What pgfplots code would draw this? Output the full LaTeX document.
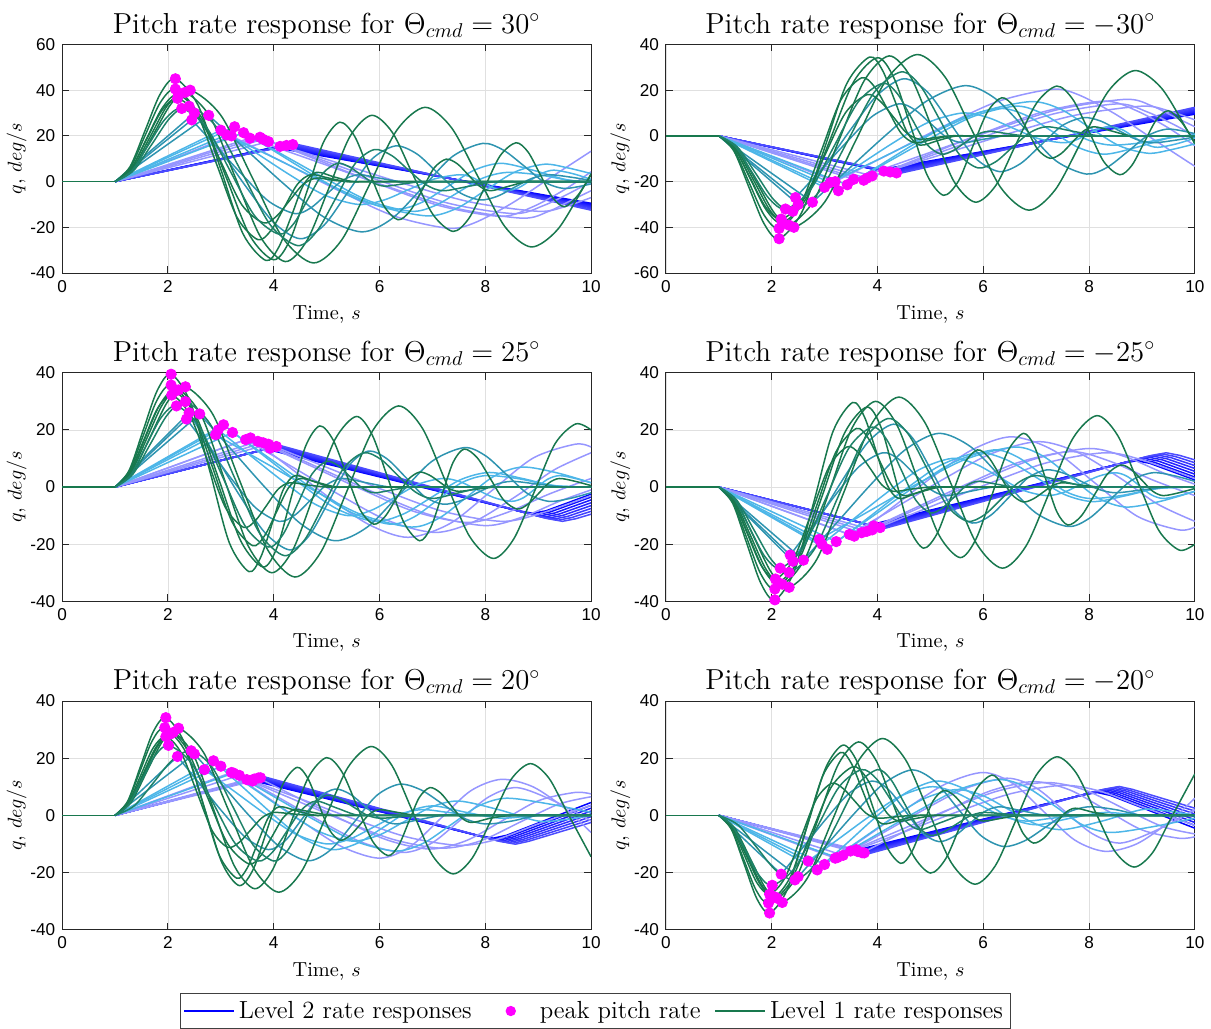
\documentclass[border=0pt]{standalone}
\usepackage{fontspec}
\usepackage{pgfplots}
\pgfplotsset{compat=1.18}
\usepgfplotslibrary{groupplots}
\newfontfamily\tickfont{Liberation Sans}

\definecolor{cG}{RGB}{24,120,78}
\definecolor{cG2}{RGB}{30,130,105}
\definecolor{cT}{RGB}{46,148,176}
\definecolor{cL}{RGB}{77,182,232}
\definecolor{cP}{RGB}{150,150,255}
\definecolor{mag}{RGB}{255,0,255}
\definecolor{bl}{RGB}{0,0,255}

\pgfplotsset{
  rp/.style={sharp plot, no markers, line width=0.75pt, color=#1},
  sm/.style={smooth, no markers, line width=0.75pt, color=#1},
  pk/.style={only marks, mark=*, mark size=2.6pt, color=mag, mark options={solid, fill=mag, draw=mag}},
  longblue/.style={legend image code/.code={\draw[draw=bl, line width=0.75pt] (0cm,0cm) -- (0.88cm,0cm);}},
  longgreen/.style={legend image code/.code={\draw[draw=cG, line width=0.75pt] (0cm,0cm) -- (0.88cm,0cm);}},
  dotimg/.style={legend image code/.code={\path[draw=none] (0cm,0cm) -- (0.88cm,0cm); \path[draw=none, fill=mag] (0.44cm,0cm) circle (2.6pt);}},
}

\begin{document}
\begin{tikzpicture}
\begin{groupplot}[
  group style={group size=2 by 3, horizontal sep=37.5pt, vertical sep=50pt},
  scale only axis, width=265pt, height=114.5pt,
  xmin=0, xmax=10, xtick={0,2,...,10}, ytick distance=20,
  grid=major, major grid style={draw=black!12, line width=0.4pt},
  axis line style={draw=black!85, line width=0.5pt},
  tick style={draw=black!85, line width=0.5pt},
  tick align=inside, tick pos=both, major tick length=3.5pt,
  ticklabel style={font=\tickfont\fontsize{8.6}{10}\selectfont},
  /pgf/number format/assume math mode=true,
  xlabel={Time, $s$}, ylabel={$q$, $deg/s$},
  label style={font=\fontsize{10.2}{12}\selectfont},
  ylabel shift=-5pt,
  every axis title/.style={at={(0.5,1)}, anchor=south, yshift=-0.6pt, font=\fontsize{14.5}{17}\selectfont},
]
% ================= 30 deg =================
\nextgroupplot[title={Pitch rate response for $\Theta_{cmd} = 30^\circ$}, ymin=-40, ymax=60]
\addplot[rp=blue] coordinates {(1,0)(4.00,15.0)(10,-9.5)};
\addplot[rp=blue!95] coordinates {(1,0)(4.06,15.2)(10,-9.9)};
\addplot[rp=blue!90] coordinates {(1,0)(4.12,15.4)(10,-10.3)};
\addplot[rp=blue!86] coordinates {(1,0)(4.18,15.6)(10,-10.7)};
\addplot[rp=blue!82] coordinates {(1,0)(4.24,15.8)(10,-11.1)};
\addplot[rp=blue!78] coordinates {(1,0)(4.30,16.0)(10,-11.5)};
\addplot[rp=blue!74] coordinates {(1,0)(4.36,16.2)(10,-12.0)};
\addplot[rp=blue!70] coordinates {(1,0)(4.42,16.4)(10,-12.5)};
\addplot[rp=cP] coordinates {(1,0)(3.2,20)};
\addplot[sm=cP] coordinates {(3.2,20)(4.23,7.9)(5.25,-4.2)(6.28,-15.1)(7.3,-20.4)(7.8,-18)(8.5,-9.5)(9.25,2)(10,13.3)};
\addplot[rp=cP] coordinates {(1,0)(3.74,19.4)};
\addplot[sm=cP] coordinates {(3.74,19.4)(4.88,9)(6.02,-1.4)(7.16,-10.7)(8.3,-15.2)(8.9,-11)(9.5,-3.5)(10,4.3)};
\addplot[rp=cP] coordinates {(1,0)(3.8,18.5)};
\addplot[sm=cP] coordinates {(3.8,18.5)(4.99,8.8)(6.18,-1)(7.36,-9.8)(8.55,-14)(9.1,-10.5)(9.6,-5)(10,0)};
\addplot[rp=cP] coordinates {(1,0)(3.55,19)};
\addplot[sm=cP] coordinates {(3.55,19)(4.84,8.5)(6.13,-2)(7.41,-11.5)(8.7,-16)(9.2,-13)(9.6,-8.5)(10,-4)};
\addplot[rp=cP] coordinates {(1,0)(3.9,17.5)};
\addplot[sm=cP] coordinates {(3.9,17.5)(5.18,8.4)(6.45,-0.8)(7.73,-9)(9.0,-13)(9.5,-11)(10,-7)};
\addplot[rp=cL] coordinates {(1,0)(3.26,24)};
\addplot[sm=cL] coordinates {(3.26,24)(4.02,13.2)(4.78,2.4)(5.54,-7.3)(6.3,-12)(6.8,-9.1)(7.3,-2)(7.8,5.1)(8.3,8)(8.9,5)(9.5,1)(10,-0.5)};
\addplot[rp=cL] coordinates {(1,0)(3.43,21.4)};
\addplot[sm=cL] coordinates {(3.43,21.4)(4.22,11.1)(5.02,0.8)(5.81,-8.5)(6.6,-13)(7.05,-10.5)(7.5,-4.5)(7.95,1.5)(8.4,4)(9.0,3)(9.6,0.5)(10,0)};
\addplot[rp=cL] coordinates {(1,0)(3.0,22.5)};
\addplot[sm=cL] coordinates {(3.0,22.5)(3.65,12.8)(4.3,3)(4.95,-5.8)(5.6,-10)(6.08,-8.1)(6.55,-3.5)(7.03,1.1)(7.5,3)(7.73,2)(7.95,-0.5)(8.18,-3)(8.4,-4)(8.63,-2.7)(8.85,0.5)(9.08,3.7)(9.3,5)(9.65,3.5)(10,1)};
\addplot[rp=cL] coordinates {(1,0)(3.11,20.4)};
\addplot[sm=cL] coordinates {(3.11,20.4)(4.06,9.8)(5.0,-0.8)(5.95,-10.4)(6.9,-15)(7.46,-11.7)(8.01,-3.7)(8.57,4.3)(9.12,7.6)(9.56,6)(10,3.5)};
\addplot[rp=cT] coordinates {(1,0)(2.45,27)};
\addplot[sm=cT] coordinates {(2.45,27)(2.94,14.7)(3.43,2.4)(3.91,-8.7)(4.4,-14)(4.7,-11.5)(5.0,-5.5)(5.3,0.5)(5.6,3)(6.0,1.5)(6.4,0)(6.9,0)(10,0)};
\addplot[rp=cT] coordinates {(1,0)(2.77,29)};
\addplot[sm=cT] coordinates {(2.77,29)(3.49,13.7)(4.22,-1.6)(4.94,-15.4)(5.66,-22)(6.23,-16.3)(6.81,-2.7)(7.38,11)(7.95,16.7)(8.34,13.8)(8.73,6.9)(9.11,-0.1)(9.5,-3)(10,-1)};
\addplot[rp=cT] coordinates {(1,0)(2.5,30)};
\addplot[sm=cT] coordinates {(2.5,30)(3.0,13.5)(3.5,-3)(4.0,-17.9)(4.5,-25)(4.95,-19.1)(5.4,-4.7)(5.85,9.7)(6.3,15.6)(6.7,12.2)(7.1,3.8)(7.5,-4.6)(7.9,-8)(8.23,-6.4)(8.55,-2.5)(8.88,1.4)(9.2,3)(9.6,2)(10,0.5)};
\addplot[sm=cG] coordinates {(1,0)(1.285,6.6)(1.57,22.5)(1.855,38.4)(2.14,45)(2.57,33.4)(3.0,5.3)(3.42,-22.9)(3.85,-34.5)(4.09,-28.9)(4.33,-15.3)(4.56,-1.6)(4.8,4)(5.15,2)(5.5,0)(6,0)(10,0)};
\addplot[sm=cG] coordinates {(1,0)(1.285,5.9)(1.57,20.3)(1.855,34.6)(2.14,40.5)(2.53,30.9)(2.92,7.6)(3.31,-15.8)(3.7,-25.4)(3.95,-21.3)(4.2,-11.2)(4.45,-1.1)(4.7,3)(5.05,1.5)(5.4,0)(5.9,0)(10,0)};
\addplot[sm=cG] coordinates {(1,0)(1.295,5.3)(1.59,18.2)(1.885,31.1)(2.18,36.4)(2.585,28.5)(2.99,9.2)(3.395,-10.1)(3.8,-18)(4.05,-15.2)(4.3,-8.3)(4.55,-1.3)(4.8,1.5)(5.1,0.7)(5.4,0)(5.9,0)(10,0)};
\addplot[sm=cG] coordinates {(1,0)(1.355,5.8)(1.71,20)(2.065,34.2)(2.42,40)(3.0,29)(3.585,2.2)(4.17,-24.6)(4.75,-35.6)(5.28,-25.7)(5.805,-1.6)(6.33,22.6)(6.86,32.5)(7.36,23.6)(7.865,2)(8.37,-19.7)(8.87,-28.6)(9.37,-20.9)(9.86,-2.3)(10,3.5)};
\addplot[sm=cG] coordinates {(1,0)(1.3,5.5)(1.6,19)(1.9,32.5)(2.2,38)(2.65,27.5)(3.1,1.9)(3.55,-23.7)(4.0,-34.2)(4.31,-25.4)(4.63,-4.1)(4.94,17.2)(5.25,26)(5.53,19.8)(5.8,4.7)(6.08,-10.5)(6.35,-16.7)(6.58,-12.8)(6.81,-3.5)(7.03,5.9)(7.26,9.8)(7.47,7.8)(7.68,2.9)(7.89,-2)(8.1,-4)(8.45,-2)(8.8,0)(9.3,0)(10,0)};
\addplot[sm=cG] coordinates {(1,0)(1.33,5.7)(1.66,19.5)(1.99,33.3)(2.32,39)(2.8,28.2)(3.27,2)(3.75,-24.2)(4.22,-35)(4.63,-25.7)(5.04,-3)(5.44,19.7)(5.85,29)(6.24,21.6)(6.62,3.6)(7.01,-14.4)(7.39,-21.8)(7.69,-16.1)(7.99,-2.4)(8.28,11.3)(8.58,17)(8.81,12.9)(9.04,3)(9.27,-6.9)(9.5,-11)(9.75,-6)(10,3)};
\addplot[sm=cG2] coordinates {(1,0)(1.315,4.7)(1.63,16)(1.945,27.3)(2.26,32)(2.72,24)(3.18,4.5)(3.64,-15)(4.1,-23)(4.375,-18.5)(4.65,-7.5)(4.925,3.5)(5.2,8)(5.425,6.5)(5.65,3)(5.875,-0.5)(6.1,-2)(6.45,-1)(6.8,0)(7.3,0)(10,0)};
\addplot[sm=cG2] coordinates {(1,0)(1.35,4.8)(1.7,16.5)(2.05,28.2)(2.4,33)(2.91,24.1)(3.43,2.5)(3.94,-19.1)(4.45,-28)(4.81,-21.9)(5.18,-7)(5.54,7.9)(5.9,14)(6.23,11.4)(6.55,5)(6.88,-1.4)(7.2,-4)(7.7,-2)(8.2,0)(8.7,0)(10,0)};
\addplot[rp=cG] coordinates {(0,0)(1,0)};
\addplot[pk] coordinates {(2.14,45)(2.14,40.5)(2.18,36.4)(2.42,40)(2.2,38)(2.32,39)(2.26,32)(2.4,33)(2.45,27)(2.77,29)(2.5,30)(3.26,24)(3.43,21.4)(3.0,22.5)(3.11,20.4)(3.2,20)(3.74,19.4)(3.8,18.5)(3.55,19)(3.9,17.5)(4.12,15.4)(4.24,15.8)(4.36,16.2)};

% ================= -30 deg =================
\nextgroupplot[title={Pitch rate response for $\Theta_{cmd} = -30^\circ$}, ymin=-60, ymax=40]
\addplot[rp=blue] coordinates {(1,0)(4.00,-15.0)(10,9.5)};
\addplot[rp=blue!95] coordinates {(1,0)(4.06,-15.2)(10,9.9)};
\addplot[rp=blue!90] coordinates {(1,0)(4.12,-15.4)(10,10.3)};
\addplot[rp=blue!86] coordinates {(1,0)(4.18,-15.6)(10,10.7)};
\addplot[rp=blue!82] coordinates {(1,0)(4.24,-15.8)(10,11.1)};
\addplot[rp=blue!78] coordinates {(1,0)(4.30,-16.0)(10,11.5)};
\addplot[rp=blue!74] coordinates {(1,0)(4.36,-16.2)(10,12.0)};
\addplot[rp=blue!70] coordinates {(1,0)(4.42,-16.4)(10,12.5)};
\addplot[rp=cP] coordinates {(1,0)(3.2,-20)};
\addplot[sm=cP] coordinates {(3.2,-20)(4.23,-7.9)(5.25,4.2)(6.28,15.1)(7.3,20.4)(7.8,18)(8.5,9.5)(9.25,-2)(10,-13.3)};
\addplot[rp=cP] coordinates {(1,0)(3.74,-19.4)};
\addplot[sm=cP] coordinates {(3.74,-19.4)(4.88,-9)(6.02,1.4)(7.16,10.7)(8.3,15.2)(8.9,11)(9.5,3.5)(10,-4.3)};
\addplot[rp=cP] coordinates {(1,0)(3.8,-18.5)};
\addplot[sm=cP] coordinates {(3.8,-18.5)(4.99,-8.8)(6.18,1)(7.36,9.8)(8.55,14)(9.1,10.5)(9.6,5)(10,0)};
\addplot[rp=cP] coordinates {(1,0)(3.55,-19)};
\addplot[sm=cP] coordinates {(3.55,-19)(4.84,-8.5)(6.13,2)(7.41,11.5)(8.7,16)(9.2,13)(9.6,8.5)(10,4)};
\addplot[rp=cP] coordinates {(1,0)(3.9,-17.5)};
\addplot[sm=cP] coordinates {(3.9,-17.5)(5.18,-8.4)(6.45,0.8)(7.73,9)(9.0,13)(9.5,11)(10,7)};
\addplot[rp=cL] coordinates {(1,0)(3.26,-24)};
\addplot[sm=cL] coordinates {(3.26,-24)(4.02,-13.2)(4.78,-2.4)(5.54,7.3)(6.3,12)(6.8,9.1)(7.3,2)(7.8,-5.1)(8.3,-8)(8.9,-5)(9.5,-1)(10,0.5)};
\addplot[rp=cL] coordinates {(1,0)(3.43,-21.4)};
\addplot[sm=cL] coordinates {(3.43,-21.4)(4.22,-11.1)(5.02,-0.8)(5.81,8.5)(6.6,13)(7.05,10.5)(7.5,4.5)(7.95,-1.5)(8.4,-4)(9.0,-3)(9.6,-0.5)(10,0)};
\addplot[rp=cL] coordinates {(1,0)(3.0,-22.5)};
\addplot[sm=cL] coordinates {(3.0,-22.5)(3.65,-12.8)(4.3,-3)(4.95,5.8)(5.6,10)(6.08,8.1)(6.55,3.5)(7.03,-1.1)(7.5,-3)(7.73,-2)(7.95,0.5)(8.18,3)(8.4,4)(8.63,2.7)(8.85,-0.5)(9.08,-3.7)(9.3,-5)(9.65,-3.5)(10,-1)};
\addplot[rp=cL] coordinates {(1,0)(3.11,-20.4)};
\addplot[sm=cL] coordinates {(3.11,-20.4)(4.06,-9.8)(5.0,0.8)(5.95,10.4)(6.9,15)(7.46,11.7)(8.01,3.7)(8.57,-4.3)(9.12,-7.6)(9.56,-6)(10,-3.5)};
\addplot[rp=cT] coordinates {(1,0)(2.45,-27)};
\addplot[sm=cT] coordinates {(2.45,-27)(2.94,-14.7)(3.43,-2.4)(3.91,8.7)(4.4,14)(4.7,11.5)(5.0,5.5)(5.3,-0.5)(5.6,-3)(6.0,-1.5)(6.4,0)(6.9,0)(10,0)};
\addplot[rp=cT] coordinates {(1,0)(2.77,-29)};
\addplot[sm=cT] coordinates {(2.77,-29)(3.49,-13.7)(4.22,1.6)(4.94,15.4)(5.66,22)(6.23,16.3)(6.81,2.7)(7.38,-11)(7.95,-16.7)(8.34,-13.8)(8.73,-6.9)(9.11,0.1)(9.5,3)(10,1)};
\addplot[rp=cT] coordinates {(1,0)(2.5,-30)};
\addplot[sm=cT] coordinates {(2.5,-30)(3.0,-13.5)(3.5,3)(4.0,17.9)(4.5,25)(4.95,19.1)(5.4,4.7)(5.85,-9.7)(6.3,-15.6)(6.7,-12.2)(7.1,-3.8)(7.5,4.6)(7.9,8)(8.23,6.4)(8.55,2.5)(8.88,-1.4)(9.2,-3)(9.6,-2)(10,-0.5)};
\addplot[sm=cG] coordinates {(1,0)(1.285,-6.6)(1.57,-22.5)(1.855,-38.4)(2.14,-45)(2.57,-33.4)(3.0,-5.3)(3.42,22.9)(3.85,34.5)(4.09,28.9)(4.33,15.3)(4.56,1.6)(4.8,-4)(5.15,-2)(5.5,0)(6,0)(10,0)};
\addplot[sm=cG] coordinates {(1,0)(1.285,-5.9)(1.57,-20.3)(1.855,-34.6)(2.14,-40.5)(2.53,-30.9)(2.92,-7.6)(3.31,15.8)(3.7,25.4)(3.95,21.3)(4.2,11.2)(4.45,1.1)(4.7,-3)(5.05,-1.5)(5.4,0)(5.9,0)(10,0)};
\addplot[sm=cG] coordinates {(1,0)(1.295,-5.3)(1.59,-18.2)(1.885,-31.1)(2.18,-36.4)(2.585,-28.5)(2.99,-9.2)(3.395,10.1)(3.8,18)(4.05,15.2)(4.3,8.3)(4.55,1.3)(4.8,-1.5)(5.1,-0.7)(5.4,0)(5.9,0)(10,0)};
\addplot[sm=cG] coordinates {(1,0)(1.355,-5.8)(1.71,-20)(2.065,-34.2)(2.42,-40)(3.0,-29)(3.585,-2.2)(4.17,24.6)(4.75,35.6)(5.28,25.7)(5.805,1.6)(6.33,-22.6)(6.86,-32.5)(7.36,-23.6)(7.865,-2)(8.37,19.7)(8.87,28.6)(9.37,20.9)(9.86,2.3)(10,-3.5)};
\addplot[sm=cG] coordinates {(1,0)(1.3,-5.5)(1.6,-19)(1.9,-32.5)(2.2,-38)(2.65,-27.5)(3.1,-1.9)(3.55,23.7)(4.0,34.2)(4.31,25.4)(4.63,4.1)(4.94,-17.2)(5.25,-26)(5.53,-19.8)(5.8,-4.7)(6.08,10.5)(6.35,16.7)(6.58,12.8)(6.81,3.5)(7.03,-5.9)(7.26,-9.8)(7.47,-7.8)(7.68,-2.9)(7.89,2)(8.1,4)(8.45,2)(8.8,0)(9.3,0)(10,0)};
\addplot[sm=cG] coordinates {(1,0)(1.33,-5.7)(1.66,-19.5)(1.99,-33.3)(2.32,-39)(2.8,-28.2)(3.27,-2)(3.75,24.2)(4.22,35)(4.63,25.7)(5.04,3)(5.44,-19.7)(5.85,-29)(6.24,-21.6)(6.62,-3.6)(7.01,14.4)(7.39,21.8)(7.69,16.1)(7.99,2.4)(8.28,-11.3)(8.58,-17)(8.81,-12.9)(9.04,-3)(9.27,6.9)(9.5,11)(9.75,6)(10,-3)};
\addplot[sm=cG2] coordinates {(1,0)(1.315,-4.7)(1.63,-16)(1.945,-27.3)(2.26,-32)(2.72,-24)(3.18,-4.5)(3.64,15)(4.1,23)(4.375,18.5)(4.65,7.5)(4.925,-3.5)(5.2,-8)(5.425,-6.5)(5.65,-3)(5.875,0.5)(6.1,2)(6.45,1)(6.8,0)(7.3,0)(10,0)};
\addplot[sm=cG2] coordinates {(1,0)(1.35,-4.8)(1.7,-16.5)(2.05,-28.2)(2.4,-33)(2.91,-24.1)(3.43,-2.5)(3.94,19.1)(4.45,28)(4.81,21.9)(5.18,7)(5.54,-7.9)(5.9,-14)(6.23,-11.4)(6.55,-5)(6.88,1.4)(7.2,4)(7.7,2)(8.2,0)(8.7,0)(10,0)};
\addplot[rp=cG] coordinates {(0,0)(1,0)};
\addplot[pk] coordinates {(2.14,-45)(2.14,-40.5)(2.18,-36.4)(2.42,-40)(2.2,-38)(2.32,-39)(2.26,-32)(2.4,-33)(2.45,-27)(2.77,-29)(2.5,-30)(3.26,-24)(3.43,-21.4)(3.0,-22.5)(3.11,-20.4)(3.2,-20)(3.74,-19.4)(3.8,-18.5)(3.55,-19)(3.9,-17.5)(4.12,-15.4)(4.24,-15.8)(4.36,-16.2)};

% ================= 25 deg =================
\nextgroupplot[title={Pitch rate response for $\Theta_{cmd} = 25^\circ$}, ymin=-40, ymax=40]
\addplot[rp=blue] coordinates {(1,0)(3.85,13.3)(8.6,-8.2)(8.9,-9.2)(9.15,-8.3)(10,-2.5)};
\addplot[rp=blue!95] coordinates {(1,0)(3.89,13.5)(8.68,-8.6)(8.98,-9.6)(9.23,-8.7)(10,-3.5)};
\addplot[rp=blue!90] coordinates {(1,0)(3.93,13.6)(8.76,-9.0)(9.06,-10.0)(9.31,-9.1)(10,-4.5)};
\addplot[rp=blue!86] coordinates {(1,0)(3.97,13.8)(8.84,-9.4)(9.14,-10.4)(9.39,-9.5)(10,-5.5)};
\addplot[rp=blue!82] coordinates {(1,0)(4.01,14.0)(8.92,-9.8)(9.22,-10.8)(9.47,-9.9)(10,-6.5)};
\addplot[rp=blue!78] coordinates {(1,0)(4.05,14.2)(9.0,-10.2)(9.3,-11.2)(9.55,-10.3)(10,-7.5)};
\addplot[rp=blue!74] coordinates {(1,0)(4.09,14.3)(9.08,-10.6)(9.38,-11.6)(9.63,-10.7)(10,-8.5)};
\addplot[rp=blue!70] coordinates {(1,0)(4.13,14.5)(9.16,-11.0)(9.46,-12.0)(9.71,-11.1)(10,-9.5)};
\addplot[rp=cP] coordinates {(1,0)(3.56,17.2)};
\addplot[sm=cP] coordinates {(3.56,17.2)(4.305,6.8)(5.05,-3.7)(5.795,-13.1)(6.54,-17.6)(7.33,-12.8)(8.12,-1.3)(8.91,10.2)(9.7,15)(10,14)};
\addplot[rp=cP] coordinates {(1,0)(3.47,16.6)};
\addplot[sm=cP] coordinates {(3.47,16.6)(4.365,6.9)(5.26,-2.9)(6.155,-11.7)(7.05,-15.9)(7.8,-12)(8.6,-3)(9.3,6)(10,12)};
\addplot[rp=cP] coordinates {(1,0)(3.7,16)};
\addplot[sm=cP] coordinates {(3.7,16)(4.69,7.5)(5.685,-1)(6.68,-8.7)(7.67,-12.4)(8.4,-9)(9.2,-2.5)(10,3)};
\addplot[rp=cP] coordinates {(1,0)(3.8,15.5)};
\addplot[sm=cP] coordinates {(3.8,15.5)(4.85,6.8)(5.9,-1.9)(6.95,-9.7)(8.0,-13.5)(8.7,-10.5)(9.4,-5)(10,-1)};
\addplot[rp=cP] coordinates {(1,0)(3.9,15)};
\addplot[sm=cP] coordinates {(3.9,15)(5.0,6.9)(6.1,-1.2)(7.2,-8.5)(8.3,-12)(9.0,-9.5)(10,-3)};
\addplot[rp=cL] coordinates {(1,0)(3.05,21.8)};
\addplot[sm=cL] coordinates {(3.05,21.8)(3.76,11.7)(4.475,1.5)(5.19,-7.6)(5.9,-12)(6.445,-9.5)(6.99,-3.5)(7.535,2.6)(8.08,5.1)(8.7,3)(9.3,0.5)(10,0)};
\addplot[rp=cL] coordinates {(1,0)(3.22,19.1)};
\addplot[sm=cL] coordinates {(3.22,19.1)(3.965,9.5)(4.71,-0.2)(5.455,-8.8)(6.2,-13)(6.65,-10.5)(7.1,-4.5)(7.55,1.5)(8.0,4)(8.6,3)(9.3,0.5)(10,0)};
\addplot[rp=cL] coordinates {(1,0)(2.95,20)};
\addplot[sm=cL] coordinates {(2.95,20)(3.56,11)(4.175,2)(4.79,-6.1)(5.4,-10)(5.85,-8.1)(6.3,-3.5)(6.75,1.1)(7.2,3)(7.53,1.8)(7.85,-1)(8.18,-3.8)(8.5,-5)(8.725,-3.7)(8.95,-0.5)(9.175,2.7)(9.4,4)(9.7,3)(10,1.5)};
\addplot[rp=cL] coordinates {(1,0)(2.9,18.3)};
\addplot[sm=cL] coordinates {(2.9,18.3)(3.825,8.6)(4.75,-1.1)(5.675,-9.8)(6.6,-14)(7.125,-10.9)(7.65,-3.5)(8.175,3.9)(8.7,7)(9.35,5)(10,1.5)};
\addplot[rp=cT] coordinates {(1,0)(2.35,23.8)};
\addplot[sm=cT] coordinates {(2.35,23.8)(2.79,13.1)(3.225,2.3)(3.66,-7.3)(4.1,-12)(4.4,-9.8)(4.7,-4.5)(5.0,0.8)(5.3,3)(5.75,1.5)(6.2,0)(6.7,0)(10,0)};
\addplot[rp=cT] coordinates {(1,0)(2.6,25.6)};
\addplot[sm=cT] coordinates {(2.6,25.6)(3.24,12.3)(3.88,-1)(4.52,-13)(5.16,-18.8)(5.77,-14)(6.38,-2.5)(6.99,9)(7.6,13.8)(8.0,11)(8.4,4.4)(8.8,-2.3)(9.2,-5)(9.6,-4)(10,-2)};
\addplot[rp=cT] coordinates {(1,0)(2.4,26)};
\addplot[sm=cT] coordinates {(2.4,26)(2.875,11.6)(3.35,-2.8)(3.825,-15.8)(4.3,-22)(4.67,-17)(5.05,-4.7)(5.42,7.5)(5.79,12.6)(6.14,9.9)(6.5,3.3)(6.85,-3.3)(7.2,-6)(7.53,-4.8)(7.85,-2)(8.18,0.8)(8.5,2)(9.0,1)(9.5,0)(10,0)};
\addplot[sm=cG] coordinates {(1,0)(1.265,5.8)(1.53,19.8)(1.795,33.7)(2.06,39.5)(2.43,29.4)(2.8,5)(3.16,-19.5)(3.53,-29.6)(3.75,-24.7)(3.97,-12.8)(4.18,-0.9)(4.4,4)(4.75,2)(5.1,0)(5.6,0)(10,0)};
\addplot[sm=cG] coordinates {(1,0)(1.265,5.2)(1.53,17.9)(1.795,30.5)(2.06,35.7)(2.445,27.5)(2.83,7.6)(3.215,-12.3)(3.6,-20.5)(3.825,-17.1)(4.05,-8.8)(4.275,-0.4)(4.5,3)(4.85,1.5)(5.2,0)(5.7,0)(10,0)};
\addplot[sm=cG] coordinates {(1,0)(1.2675,4.7)(1.535,16.1)(1.8025,27.5)(2.07,32.2)(2.41,25.4)(2.75,9.1)(3.09,-7.3)(3.43,-14.1)(3.65,-11.8)(3.87,-6.3)(4.08,-0.8)(4.3,1.5)(4.65,0.7)(5.0,0)(5.5,0)(10,0)};
\addplot[sm=cG] coordinates {(1,0)(1.3325,5.1)(1.665,17.6)(1.9975,30)(2.33,35.1)(2.85,25.4)(3.365,1.8)(3.88,-21.8)(4.4,-31.5)(4.89,-22.8)(5.38,-1.6)(5.87,19.7)(6.36,28.4)(6.81,20.6)(7.255,1.7)(7.7,-17.2)(8.15,-25)(8.54,-18.1)(8.93,-1.5)(9.32,15.2)(9.71,22.1)(10,20)};
\addplot[sm=cG] coordinates {(1,0)(1.28,4.9)(1.56,16.8)(1.84,28.6)(2.12,33.5)(2.54,24.5)(2.96,2.8)(3.38,-19)(3.8,-28)(4.07,-20.8)(4.335,-3.3)(4.6,14.2)(4.87,21.4)(5.125,16.4)(5.38,4.2)(5.635,-8)(5.89,-13)(6.105,-10.3)(6.32,-3.9)(6.535,2.5)(6.75,5.2)(6.94,4.2)(7.125,1.9)(7.31,-0.5)(7.5,-1.5)(7.85,-0.7)(8.2,0)(8.7,0)(10,0)};
\addplot[sm=cG] coordinates {(1,0)(1.3,5)(1.6,17)(1.9,29)(2.2,34)(2.64,24.7)(3.08,2)(3.52,-20.7)(3.96,-30)(4.36,-22)(4.76,-2.7)(5.16,16.7)(5.56,24.7)(5.86,18.3)(6.16,3)(6.46,-12.4)(6.76,-18.8)(6.97,-14.1)(7.18,-2.8)(7.39,8.6)(7.6,13.3)(7.85,10.2)(8.1,2.8)(8.35,-4.6)(8.6,-7.7)(8.8,-6.1)(9.0,-2.4)(9.2,1.4)(9.4,3)(9.7,2)(10,0.5)};
\addplot[sm=cG2] coordinates {(1,0)(1.29,4.1)(1.58,14.2)(1.87,24.3)(2.16,28.4)(2.595,21.2)(3.03,3.7)(3.465,-13.8)(3.9,-21)(4.175,-16.6)(4.45,-6)(4.725,4.6)(5.0,9)(5.225,7.4)(5.45,3.5)(5.675,-0.4)(5.9,-2)(6.25,-1)(6.6,0)(7.1,0)(10,0)};
\addplot[sm=cG2] coordinates {(1,0)(1.3325,4.4)(1.665,15)(1.9975,25.5)(2.33,29.9)(2.80,22)(3.265,3)(3.73,-16.1)(4.2,-24)(4.575,-18.7)(4.95,-6)(5.325,6.7)(5.7,12)(6.025,9.7)(6.35,4)(6.675,-1.7)(7.0,-4)(7.5,-2)(8.0,0)(8.5,0)(10,0)};
\addplot[rp=cG] coordinates {(0,0)(1,0)};
\addplot[pk] coordinates {(2.06,39.5)(2.06,35.7)(2.07,32.2)(2.33,35.1)(2.12,33.5)(2.2,34)(2.16,28.4)(2.33,29.9)(2.35,23.8)(2.6,25.6)(2.4,26)(3.05,21.8)(3.22,19.1)(2.95,20)(2.9,18.3)(3.56,17.2)(3.47,16.6)(3.7,16)(3.8,15.5)(3.9,15)(3.93,13.6)(4.05,14.2)};

% ================= -25 deg =================
\nextgroupplot[title={Pitch rate response for $\Theta_{cmd} = -25^\circ$}, ymin=-40, ymax=40]
\addplot[rp=blue] coordinates {(1,0)(3.85,-13.3)(8.6,8.2)(8.9,9.2)(9.15,8.3)(10,2.5)};
\addplot[rp=blue!95] coordinates {(1,0)(3.89,-13.5)(8.68,8.6)(8.98,9.6)(9.23,8.7)(10,3.5)};
\addplot[rp=blue!90] coordinates {(1,0)(3.93,-13.6)(8.76,9.0)(9.06,10.0)(9.31,9.1)(10,4.5)};
\addplot[rp=blue!86] coordinates {(1,0)(3.97,-13.8)(8.84,9.4)(9.14,10.4)(9.39,9.5)(10,5.5)};
\addplot[rp=blue!82] coordinates {(1,0)(4.01,-14.0)(8.92,9.8)(9.22,10.8)(9.47,9.9)(10,6.5)};
\addplot[rp=blue!78] coordinates {(1,0)(4.05,-14.2)(9.0,10.2)(9.3,11.2)(9.55,10.3)(10,7.5)};
\addplot[rp=blue!74] coordinates {(1,0)(4.09,-14.3)(9.08,10.6)(9.38,11.6)(9.63,10.7)(10,8.5)};
\addplot[rp=blue!70] coordinates {(1,0)(4.13,-14.5)(9.16,11.0)(9.46,12.0)(9.71,11.1)(10,9.5)};
\addplot[rp=cP] coordinates {(1,0)(3.56,-17.2)};
\addplot[sm=cP] coordinates {(3.56,-17.2)(4.305,-6.8)(5.05,3.7)(5.795,13.1)(6.54,17.6)(7.33,12.8)(8.12,1.3)(8.91,-10.2)(9.7,-15)(10,-14)};
\addplot[rp=cP] coordinates {(1,0)(3.47,-16.6)};
\addplot[sm=cP] coordinates {(3.47,-16.6)(4.365,-6.9)(5.26,2.9)(6.155,11.7)(7.05,15.9)(7.8,12)(8.6,3)(9.3,-6)(10,-12)};
\addplot[rp=cP] coordinates {(1,0)(3.7,-16)};
\addplot[sm=cP] coordinates {(3.7,-16)(4.69,-7.5)(5.685,1)(6.68,8.7)(7.67,12.4)(8.4,9)(9.2,2.5)(10,-3)};
\addplot[rp=cP] coordinates {(1,0)(3.8,-15.5)};
\addplot[sm=cP] coordinates {(3.8,-15.5)(4.85,-6.8)(5.9,1.9)(6.95,9.7)(8.0,13.5)(8.7,10.5)(9.4,5)(10,1)};
\addplot[rp=cP] coordinates {(1,0)(3.9,-15)};
\addplot[sm=cP] coordinates {(3.9,-15)(5.0,-6.9)(6.1,1.2)(7.2,8.5)(8.3,12)(9.0,9.5)(10,3)};
\addplot[rp=cL] coordinates {(1,0)(3.05,-21.8)};
\addplot[sm=cL] coordinates {(3.05,-21.8)(3.76,-11.7)(4.475,-1.5)(5.19,7.6)(5.9,12)(6.445,9.5)(6.99,3.5)(7.535,-2.6)(8.08,-5.1)(8.7,-3)(9.3,-0.5)(10,0)};
\addplot[rp=cL] coordinates {(1,0)(3.22,-19.1)};
\addplot[sm=cL] coordinates {(3.22,-19.1)(3.965,-9.5)(4.71,0.2)(5.455,8.8)(6.2,13)(6.65,10.5)(7.1,4.5)(7.55,-1.5)(8.0,-4)(8.6,-3)(9.3,-0.5)(10,0)};
\addplot[rp=cL] coordinates {(1,0)(2.95,-20)};
\addplot[sm=cL] coordinates {(2.95,-20)(3.56,-11)(4.175,-2)(4.79,6.1)(5.4,10)(5.85,8.1)(6.3,3.5)(6.75,-1.1)(7.2,-3)(7.53,-1.8)(7.85,1)(8.18,3.8)(8.5,5)(8.725,3.7)(8.95,0.5)(9.175,-2.7)(9.4,-4)(9.7,-3)(10,-1.5)};
\addplot[rp=cL] coordinates {(1,0)(2.9,-18.3)};
\addplot[sm=cL] coordinates {(2.9,-18.3)(3.825,-8.6)(4.75,1.1)(5.675,9.8)(6.6,14)(7.125,10.9)(7.65,3.5)(8.175,-3.9)(8.7,-7)(9.35,-5)(10,-1.5)};
\addplot[rp=cT] coordinates {(1,0)(2.35,-23.8)};
\addplot[sm=cT] coordinates {(2.35,-23.8)(2.79,-13.1)(3.225,-2.3)(3.66,7.3)(4.1,12)(4.4,9.8)(4.7,4.5)(5.0,-0.8)(5.3,-3)(5.75,-1.5)(6.2,0)(6.7,0)(10,0)};
\addplot[rp=cT] coordinates {(1,0)(2.6,-25.6)};
\addplot[sm=cT] coordinates {(2.6,-25.6)(3.24,-12.3)(3.88,1)(4.52,13)(5.16,18.8)(5.77,14)(6.38,2.5)(6.99,-9)(7.6,-13.8)(8.0,-11)(8.4,-4.4)(8.8,2.3)(9.2,5)(9.6,4)(10,2)};
\addplot[rp=cT] coordinates {(1,0)(2.4,-26)};
\addplot[sm=cT] coordinates {(2.4,-26)(2.875,-11.6)(3.35,2.8)(3.825,15.8)(4.3,22)(4.67,17)(5.05,4.7)(5.42,-7.5)(5.79,-12.6)(6.14,-9.9)(6.5,-3.3)(6.85,3.3)(7.2,6)(7.53,4.8)(7.85,2)(8.18,-0.8)(8.5,-2)(9.0,-1)(9.5,0)(10,0)};
\addplot[sm=cG] coordinates {(1,0)(1.265,-5.8)(1.53,-19.8)(1.795,-33.7)(2.06,-39.5)(2.43,-29.4)(2.8,-5)(3.16,19.5)(3.53,29.6)(3.75,24.7)(3.97,12.8)(4.18,0.9)(4.4,-4)(4.75,-2)(5.1,0)(5.6,0)(10,0)};
\addplot[sm=cG] coordinates {(1,0)(1.265,-5.2)(1.53,-17.9)(1.795,-30.5)(2.06,-35.7)(2.445,-27.5)(2.83,-7.6)(3.215,12.3)(3.6,20.5)(3.825,17.1)(4.05,8.8)(4.275,0.4)(4.5,-3)(4.85,-1.5)(5.2,0)(5.7,0)(10,0)};
\addplot[sm=cG] coordinates {(1,0)(1.2675,-4.7)(1.535,-16.1)(1.8025,-27.5)(2.07,-32.2)(2.41,-25.4)(2.75,-9.1)(3.09,7.3)(3.43,14.1)(3.65,11.8)(3.87,6.3)(4.08,0.8)(4.3,-1.5)(4.65,-0.7)(5.0,0)(5.5,0)(10,0)};
\addplot[sm=cG] coordinates {(1,0)(1.3325,-5.1)(1.665,-17.6)(1.9975,-30)(2.33,-35.1)(2.85,-25.4)(3.365,-1.8)(3.88,21.8)(4.4,31.5)(4.89,22.8)(5.38,1.6)(5.87,-19.7)(6.36,-28.4)(6.81,-20.6)(7.255,-1.7)(7.7,17.2)(8.15,25)(8.54,18.1)(8.93,1.5)(9.32,-15.2)(9.71,-22.1)(10,-20)};
\addplot[sm=cG] coordinates {(1,0)(1.28,-4.9)(1.56,-16.8)(1.84,-28.6)(2.12,-33.5)(2.54,-24.5)(2.96,-2.8)(3.38,19)(3.8,28)(4.07,20.8)(4.335,3.3)(4.6,-14.2)(4.87,-21.4)(5.125,-16.4)(5.38,-4.2)(5.635,8)(5.89,13)(6.105,10.3)(6.32,3.9)(6.535,-2.5)(6.75,-5.2)(6.94,-4.2)(7.125,-1.9)(7.31,0.5)(7.5,1.5)(7.85,0.7)(8.2,0)(8.7,0)(10,0)};
\addplot[sm=cG] coordinates {(1,0)(1.3,-5)(1.6,-17)(1.9,-29)(2.2,-34)(2.64,-24.7)(3.08,-2)(3.52,20.7)(3.96,30)(4.36,22)(4.76,2.7)(5.16,-16.7)(5.56,-24.7)(5.86,-18.3)(6.16,-3)(6.46,12.4)(6.76,18.8)(6.97,14.1)(7.18,2.8)(7.39,-8.6)(7.6,-13.3)(7.85,-10.2)(8.1,-2.8)(8.35,4.6)(8.6,7.7)(8.8,6.1)(9.0,2.4)(9.2,-1.4)(9.4,-3)(9.7,-2)(10,-0.5)};
\addplot[sm=cG2] coordinates {(1,0)(1.29,-4.1)(1.58,-14.2)(1.87,-24.3)(2.16,-28.4)(2.595,-21.2)(3.03,-3.7)(3.465,13.8)(3.9,21)(4.175,16.6)(4.45,6)(4.725,-4.6)(5.0,-9)(5.225,-7.4)(5.45,-3.5)(5.675,0.4)(5.9,2)(6.25,1)(6.6,0)(7.1,0)(10,0)};
\addplot[sm=cG2] coordinates {(1,0)(1.3325,-4.4)(1.665,-15)(1.9975,-25.5)(2.33,-29.9)(2.80,-22)(3.265,-3)(3.73,16.1)(4.2,24)(4.575,18.7)(4.95,6)(5.325,-6.7)(5.7,-12)(6.025,-9.7)(6.35,-4)(6.675,1.7)(7.0,4)(7.5,2)(8.0,0)(8.5,0)(10,0)};
\addplot[rp=cG] coordinates {(0,0)(1,0)};
\addplot[pk] coordinates {(2.06,-39.5)(2.06,-35.7)(2.07,-32.2)(2.33,-35.1)(2.12,-33.5)(2.2,-34)(2.16,-28.4)(2.33,-29.9)(2.35,-23.8)(2.6,-25.6)(2.4,-26)(3.05,-21.8)(3.22,-19.1)(2.95,-20)(2.9,-18.3)(3.56,-17.2)(3.47,-16.6)(3.7,-16)(3.8,-15.5)(3.9,-15)(3.93,-13.6)(4.05,-14.2)};

% ================= 20 deg =================
\nextgroupplot[title={Pitch rate response for $\Theta_{cmd} = 20^\circ$}, ymin=-40, ymax=40,
  legend style={at={(0.2226,-0.2795)}, anchor=north west, legend columns=3, draw=black!75, line width=0.5pt,
    font=\fontsize{12.4}{14}\selectfont, inner sep=1.5pt,
    /tikz/every even column/.append style={column sep=5pt}}]
\addlegendimage{longblue}
\addlegendimage{dotimg}
\addlegendimage{longgreen}
\legend{Level 2 rate responses, peak pitch rate, Level 1 rate responses}
\addplot[rp=blue] coordinates {(1,0)(3.55,12.4)(7.85,-7.0)(8.15,-8.0)(8.4,-7.0)(10,4.5)};
\addplot[rp=blue!95] coordinates {(1,0)(3.59,12.55)(7.91,-7.3)(8.21,-8.3)(8.46,-7.3)(10,3.5)};
\addplot[rp=blue!90] coordinates {(1,0)(3.63,12.7)(7.97,-7.6)(8.27,-8.6)(8.52,-7.6)(10,2.5)};
\addplot[rp=blue!86] coordinates {(1,0)(3.67,12.85)(8.03,-7.9)(8.33,-8.9)(8.58,-7.9)(10,1.5)};
\addplot[rp=blue!82] coordinates {(1,0)(3.71,13.0)(8.09,-8.2)(8.39,-9.2)(8.64,-8.2)(10,0.5)};
\addplot[rp=blue!78] coordinates {(1,0)(3.75,13.15)(8.15,-8.5)(8.45,-9.5)(8.7,-8.5)(10,-0.5)};
\addplot[rp=blue!74] coordinates {(1,0)(3.79,13.3)(8.21,-8.8)(8.51,-9.8)(8.76,-8.8)(10,-1.5)};
\addplot[rp=blue!70] coordinates {(1,0)(3.83,13.45)(8.27,-9.1)(8.57,-10.1)(8.82,-9.1)(10,-2.5)};
\addplot[rp=cP] coordinates {(1,0)(3.2,15)};
\addplot[sm=cP] coordinates {(3.2,15)(3.9,6)(4.6,-3)(5.3,-11.1)(6.0,-15)(6.575,-11)(7.15,-1.2)(7.725,8.6)(8.3,12.6)(8.9,10)(9.5,2.5)(10,-6)};
\addplot[rp=cP] coordinates {(1,0)(3.35,14)};
\addplot[sm=cP] coordinates {(3.35,14)(4.125,5.9)(4.9,-2.2)(5.675,-9.5)(6.45,-13)(6.99,-9.7)(7.525,-1.7)(8.06,6.4)(8.6,9.7)(9.3,5)(10,-2)};
\addplot[rp=cP] coordinates {(1,0)(3.71,13.1)};
\addplot[sm=cP] coordinates {(3.71,13.1)(4.52,5.6)(5.33,-1.8)(6.14,-8.6)(6.95,-11.8)(7.635,-8.9)(8.32,-1.9)(9.0,5.1)(9.69,8)(10,7.5)};
\addplot[rp=cP] coordinates {(1,0)(3.49,12.5)};
\addplot[sm=cP] coordinates {(3.49,12.5)(4.41,5.3)(5.33,-1.9)(6.25,-8.4)(7.17,-11.5)(7.9,-9)(8.7,-2)(9.4,4)(10,6.5)};
\addplot[rp=cP] coordinates {(1,0)(3.6,12)};
\addplot[sm=cP] coordinates {(3.6,12)(4.575,5.3)(5.55,-1.5)(6.525,-7.6)(7.5,-10.5)(8.2,-8.5)(9.0,-3)(10,3.5)};
\addplot[rp=cL] coordinates {(1,0)(2.86,19.1)};
\addplot[sm=cL] coordinates {(2.86,19.1)(3.42,9.8)(3.98,0.4)(4.54,-7.9)(5.1,-12)(5.58,-9.8)(6.055,-4.4)(6.53,1.1)(7.01,3.3)(7.65,1)(8.3,-1)(9.0,0)(10,0)};
\addplot[rp=cL] coordinates {(1,0)(3.0,17.2)};
\addplot[sm=cL] coordinates {(3.0,17.2)(3.62,9.3)(4.235,1.5)(4.85,-5.6)(5.47,-9)(5.98,-7)(6.485,-2)(6.99,3)(7.5,5)(8.25,2)(9.0,-2)(9.5,-1.5)(10,0)};
\addplot[rp=cL] coordinates {(1,0)(2.69,16)};
\addplot[sm=cL] coordinates {(2.69,16)(3.27,8.2)(3.845,0.4)(4.42,-6.6)(5.0,-10)(5.45,-8.2)(5.9,-4)(6.35,0.2)(6.8,2)(7.3,1)(7.8,0)(8.3,0)(10,0)};
\addplot[rp=cL] coordinates {(1,0)(3.24,14.8)};
\addplot[sm=cL] coordinates {(3.24,14.8)(4.0,6.6)(4.77,-1.6)(5.53,-9)(6.3,-12.5)(6.825,-9.8)(7.35,-3.3)(7.875,3.3)(8.4,6)(9.2,4)(10,1)};
\addplot[rp=cT] coordinates {(1,0)(2.18,20.6)};
\addplot[sm=cT] coordinates {(2.18,20.6)(2.61,10.8)(3.04,1)(3.47,-7.8)(3.9,-12)(4.215,-8.9)(4.53,-1.4)(4.845,6.1)(5.16,9.2)(5.445,7.4)(5.73,3.1)(6.015,-1.2)(6.3,-3)(6.75,-1.5)(7.2,0)(7.7,0)(10,0)};
\addplot[rp=cT] coordinates {(1,0)(2.5,21.5)};
\addplot[sm=cT] coordinates {(2.5,21.5)(3.04,10.3)(3.575,-0.9)(4.11,-11)(4.65,-15.9)(5.08,-12)(5.515,-2.5)(5.95,7)(6.38,10.9)(6.785,8.9)(7.19,4)(7.595,-1)(8.0,-3)(8.5,-2)(9.0,0)(9.5,0)(10,0)};
\addplot[sm=cG] coordinates {(1,0)(1.24,5)(1.48,17.1)(1.72,29.2)(1.96,34.2)(2.295,26)(2.63,6.1)(2.965,-13.8)(3.3,-22)(3.5,-18.4)(3.7,-9.5)(3.9,-0.7)(4.1,3)(4.45,1.5)(4.8,0)(5.3,0)(10,0)};
\addplot[sm=cG] coordinates {(1,0)(1.235,4.5)(1.47,15.4)(1.705,26.2)(1.94,30.7)(2.34,23.7)(2.735,6.9)(3.13,-10)(3.53,-17)(3.75,-14.2)(3.965,-7.5)(4.18,-0.8)(4.4,2)(4.75,1)(5.1,0)(5.6,0)(10,0)};
\addplot[sm=cG] coordinates {(1,0)(1.24,4)(1.48,13.8)(1.72,23.6)(1.96,27.6)(2.25,21.9)(2.545,8.2)(2.84,-5.5)(3.13,-11.2)(3.35,-9.4)(3.565,-5.1)(3.78,-0.8)(4.0,1)(4.35,0.5)(4.7,0)(5.2,0)(10,0)};
\addplot[sm=cG] coordinates {(1,0)(1.3,4.5)(1.6,15.3)(1.9,26)(2.2,30.5)(2.67,22.1)(3.145,1.8)(3.62,-18.5)(4.09,-26.9)(4.53,-19.5)(4.965,-1.4)(5.40,16.7)(5.84,24.1)(6.23,17.6)(6.615,1.8)(7.0,-14)(7.39,-20.5)(7.755,-14.9)(8.12,-1.2)(8.485,12.5)(8.85,18.1)(9.2,13.1)(9.55,1)(10,-14.5)};
\addplot[sm=cG] coordinates {(1,0)(1.2625,4.2)(1.525,14.3)(1.7875,24.3)(2.05,28.5)(2.375,20.7)(2.7,2)(3.025,-16.8)(3.35,-24.6)(3.62,-18.6)(3.895,-3.9)(4.17,10.8)(4.44,16.8)(4.64,13.1)(4.845,4.1)(5.05,-5)(5.25,-8.7)(5.44,-7.1)(5.625,-3.4)(5.81,0.4)(6.0,2)(6.35,1)(6.7,0)(7.2,0)(10,0)};
\addplot[sm=cG] coordinates {(1,0)(1.275,4.2)(1.55,14.5)(1.825,24.8)(2.1,29)(2.485,21)(2.87,1.7)(3.255,-17.7)(3.64,-25.7)(3.98,-19)(4.32,-2.8)(4.66,13.5)(5.0,20.2)(5.29,15.2)(5.58,3)(5.87,-9.1)(6.16,-14.1)(6.36,-10.6)(6.555,-2.2)(6.75,6.2)(6.95,9.7)(7.15,7.9)(7.345,3.6)(7.54,-0.7)(7.74,-2.5)(8.1,-1)(8.5,0)(9.0,0)(10,0)};
\addplot[sm=cG2] coordinates {(1,0)(1.2525,3.6)(1.505,12.3)(1.7575,20.9)(2.01,24.5)(2.43,18.6)(2.855,4.3)(3.28,-10.1)(3.7,-16)(3.975,-12.9)(4.25,-5.5)(4.525,1.9)(4.8,5)(5.2,2.5)(5.6,0)(6.1,0)(10,0)};
\addplot[sm=cG2] coordinates {(1,0)(1.36,3.3)(1.72,11.3)(2.08,19.3)(2.44,22.6)(2.83,17)(3.22,3.3)(3.61,-10.4)(4.0,-16)(4.25,-12.6)(4.5,-4.5)(4.75,3.6)(5.0,7)(5.25,5.8)(5.5,3)(5.75,0.2)(6.0,-1)(6.4,-0.5)(6.8,0)(7.3,0)(10,0)};
\addplot[rp=cG] coordinates {(0,0)(1,0)};
\addplot[pk] coordinates {(1.96,34.2)(1.94,30.7)(1.96,27.6)(2.2,30.5)(2.05,28.5)(2.1,29)(2.01,24.5)(2.44,22.6)(2.18,20.6)(2.5,21.5)(2.86,19.1)(3.0,17.2)(2.69,16)(3.24,14.8)(3.2,15)(3.35,14)(3.71,13.1)(3.49,12.5)(3.6,12)(3.63,12.7)(3.75,13.15)};

% ================= -20 deg =================
\nextgroupplot[title={Pitch rate response for $\Theta_{cmd} = -20^\circ$}, ymin=-40, ymax=40]
\addplot[rp=blue] coordinates {(1,0)(3.55,-12.4)(7.85,7.0)(8.15,8.0)(8.4,7.0)(10,-4.5)};
\addplot[rp=blue!95] coordinates {(1,0)(3.59,-12.55)(7.91,7.3)(8.21,8.3)(8.46,7.3)(10,-3.5)};
\addplot[rp=blue!90] coordinates {(1,0)(3.63,-12.7)(7.97,7.6)(8.27,8.6)(8.52,7.6)(10,-2.5)};
\addplot[rp=blue!86] coordinates {(1,0)(3.67,-12.85)(8.03,7.9)(8.33,8.9)(8.58,7.9)(10,-1.5)};
\addplot[rp=blue!82] coordinates {(1,0)(3.71,-13.0)(8.09,8.2)(8.39,9.2)(8.64,8.2)(10,-0.5)};
\addplot[rp=blue!78] coordinates {(1,0)(3.75,-13.15)(8.15,8.5)(8.45,9.5)(8.7,8.5)(10,0.5)};
\addplot[rp=blue!74] coordinates {(1,0)(3.79,-13.3)(8.21,8.8)(8.51,9.8)(8.76,8.8)(10,1.5)};
\addplot[rp=blue!70] coordinates {(1,0)(3.83,-13.45)(8.27,9.1)(8.57,10.1)(8.82,9.1)(10,2.5)};
\addplot[rp=cP] coordinates {(1,0)(3.2,-15)};
\addplot[sm=cP] coordinates {(3.2,-15)(3.9,-6)(4.6,3)(5.3,11.1)(6.0,15)(6.575,11)(7.15,1.2)(7.725,-8.6)(8.3,-12.6)(8.9,-10)(9.5,-2.5)(10,6)};
\addplot[rp=cP] coordinates {(1,0)(3.35,-14)};
\addplot[sm=cP] coordinates {(3.35,-14)(4.125,-5.9)(4.9,2.2)(5.675,9.5)(6.45,13)(6.99,9.7)(7.525,1.7)(8.06,-6.4)(8.6,-9.7)(9.3,-5)(10,2)};
\addplot[rp=cP] coordinates {(1,0)(3.71,-13.1)};
\addplot[sm=cP] coordinates {(3.71,-13.1)(4.52,-5.6)(5.33,1.8)(6.14,8.6)(6.95,11.8)(7.635,8.9)(8.32,1.9)(9.0,-5.1)(9.69,-8)(10,-7.5)};
\addplot[rp=cP] coordinates {(1,0)(3.49,-12.5)};
\addplot[sm=cP] coordinates {(3.49,-12.5)(4.41,-5.3)(5.33,1.9)(6.25,8.4)(7.17,11.5)(7.9,9)(8.7,2)(9.4,-4)(10,-6.5)};
\addplot[rp=cP] coordinates {(1,0)(3.6,-12)};
\addplot[sm=cP] coordinates {(3.6,-12)(4.575,-5.3)(5.55,1.5)(6.525,7.6)(7.5,10.5)(8.2,8.5)(9.0,3)(10,-3.5)};
\addplot[rp=cL] coordinates {(1,0)(2.86,-19.1)};
\addplot[sm=cL] coordinates {(2.86,-19.1)(3.42,-9.8)(3.98,-0.4)(4.54,7.9)(5.1,12)(5.58,9.8)(6.055,4.4)(6.53,-1.1)(7.01,-3.3)(7.65,-1)(8.3,1)(9.0,0)(10,0)};
\addplot[rp=cL] coordinates {(1,0)(3.0,-17.2)};
\addplot[sm=cL] coordinates {(3.0,-17.2)(3.62,-9.3)(4.235,-1.5)(4.85,5.6)(5.47,9)(5.98,7)(6.485,2)(6.99,-3)(7.5,-5)(8.25,-2)(9.0,2)(9.5,1.5)(10,0)};
\addplot[rp=cL] coordinates {(1,0)(2.69,-16)};
\addplot[sm=cL] coordinates {(2.69,-16)(3.27,-8.2)(3.845,-0.4)(4.42,6.6)(5.0,10)(5.45,8.2)(5.9,4)(6.35,-0.2)(6.8,-2)(7.3,-1)(7.8,0)(8.3,0)(10,0)};
\addplot[rp=cL] coordinates {(1,0)(3.24,-14.8)};
\addplot[sm=cL] coordinates {(3.24,-14.8)(4.0,-6.6)(4.77,1.6)(5.53,9)(6.3,12.5)(6.825,9.8)(7.35,3.3)(7.875,-3.3)(8.4,-6)(9.2,-4)(10,-1)};
\addplot[rp=cT] coordinates {(1,0)(2.18,-20.6)};
\addplot[sm=cT] coordinates {(2.18,-20.6)(2.61,-10.8)(3.04,-1)(3.47,7.8)(3.9,12)(4.215,8.9)(4.53,1.4)(4.845,-6.1)(5.16,-9.2)(5.445,-7.4)(5.73,-3.1)(6.015,1.2)(6.3,3)(6.75,1.5)(7.2,0)(7.7,0)(10,0)};
\addplot[rp=cT] coordinates {(1,0)(2.5,-21.5)};
\addplot[sm=cT] coordinates {(2.5,-21.5)(3.04,-10.3)(3.575,0.9)(4.11,11)(4.65,15.9)(5.08,12)(5.515,2.5)(5.95,-7)(6.38,-10.9)(6.785,-8.9)(7.19,-4)(7.595,1)(8.0,3)(8.5,2)(9.0,0)(9.5,0)(10,0)};
\addplot[sm=cG] coordinates {(1,0)(1.24,-5)(1.48,-17.1)(1.72,-29.2)(1.96,-34.2)(2.295,-26)(2.63,-6.1)(2.965,13.8)(3.3,22)(3.5,18.4)(3.7,9.5)(3.9,0.7)(4.1,-3)(4.45,-1.5)(4.8,0)(5.3,0)(10,0)};
\addplot[sm=cG] coordinates {(1,0)(1.235,-4.5)(1.47,-15.4)(1.705,-26.2)(1.94,-30.7)(2.34,-23.7)(2.735,-6.9)(3.13,10)(3.53,17)(3.75,14.2)(3.965,7.5)(4.18,0.8)(4.4,-2)(4.75,-1)(5.1,0)(5.6,0)(10,0)};
\addplot[sm=cG] coordinates {(1,0)(1.24,-4)(1.48,-13.8)(1.72,-23.6)(1.96,-27.6)(2.25,-21.9)(2.545,-8.2)(2.84,5.5)(3.13,11.2)(3.35,9.4)(3.565,5.1)(3.78,0.8)(4.0,-1)(4.35,-0.5)(4.7,0)(5.2,0)(10,0)};
\addplot[sm=cG] coordinates {(1,0)(1.3,-4.5)(1.6,-15.3)(1.9,-26)(2.2,-30.5)(2.67,-22.1)(3.145,-1.8)(3.62,18.5)(4.09,26.9)(4.53,19.5)(4.965,1.4)(5.40,-16.7)(5.84,-24.1)(6.23,-17.6)(6.615,-1.8)(7.0,14)(7.39,20.5)(7.755,14.9)(8.12,1.2)(8.485,-12.5)(8.85,-18.1)(9.2,-13.1)(9.55,-1)(10,14.5)};
\addplot[sm=cG] coordinates {(1,0)(1.2625,-4.2)(1.525,-14.3)(1.7875,-24.3)(2.05,-28.5)(2.375,-20.7)(2.7,-2)(3.025,16.8)(3.35,24.6)(3.62,18.6)(3.895,3.9)(4.17,-10.8)(4.44,-16.8)(4.64,-13.1)(4.845,-4.1)(5.05,5)(5.25,8.7)(5.44,7.1)(5.625,3.4)(5.81,-0.4)(6.0,-2)(6.35,-1)(6.7,0)(7.2,0)(10,0)};
\addplot[sm=cG] coordinates {(1,0)(1.275,-4.2)(1.55,-14.5)(1.825,-24.8)(2.1,-29)(2.485,-21)(2.87,-1.7)(3.255,17.7)(3.64,25.7)(3.98,19)(4.32,2.8)(4.66,-13.5)(5.0,-20.2)(5.29,-15.2)(5.58,-3)(5.87,9.1)(6.16,14.1)(6.36,10.6)(6.555,2.2)(6.75,-6.2)(6.95,-9.7)(7.15,-7.9)(7.345,-3.6)(7.54,0.7)(7.74,2.5)(8.1,1)(8.5,0)(9.0,0)(10,0)};
\addplot[sm=cG2] coordinates {(1,0)(1.2525,-3.6)(1.505,-12.3)(1.7575,-20.9)(2.01,-24.5)(2.43,-18.6)(2.855,-4.3)(3.28,10.1)(3.7,16)(3.975,12.9)(4.25,5.5)(4.525,-1.9)(4.8,-5)(5.2,-2.5)(5.6,0)(6.1,0)(10,0)};
\addplot[sm=cG2] coordinates {(1,0)(1.36,-3.3)(1.72,-11.3)(2.08,-19.3)(2.44,-22.6)(2.83,-17)(3.22,-3.3)(3.61,10.4)(4.0,16)(4.25,12.6)(4.5,4.5)(4.75,-3.6)(5.0,-7)(5.25,-5.8)(5.5,-3)(5.75,-0.2)(6.0,1)(6.4,0.5)(6.8,0)(7.3,0)(10,0)};
\addplot[rp=cG] coordinates {(0,0)(1,0)};
\addplot[pk] coordinates {(1.96,-34.2)(1.94,-30.7)(1.96,-27.6)(2.2,-30.5)(2.05,-28.5)(2.1,-29)(2.01,-24.5)(2.44,-22.6)(2.18,-20.6)(2.5,-21.5)(2.86,-19.1)(3.0,-17.2)(2.69,-16)(3.24,-14.8)(3.2,-15)(3.35,-14)(3.71,-13.1)(3.49,-12.5)(3.6,-12)(3.63,-12.7)(3.75,-13.15)};
\end{groupplot}
\path (current bounding box.north) ++(0,3pt);
\end{tikzpicture}
\end{document}
